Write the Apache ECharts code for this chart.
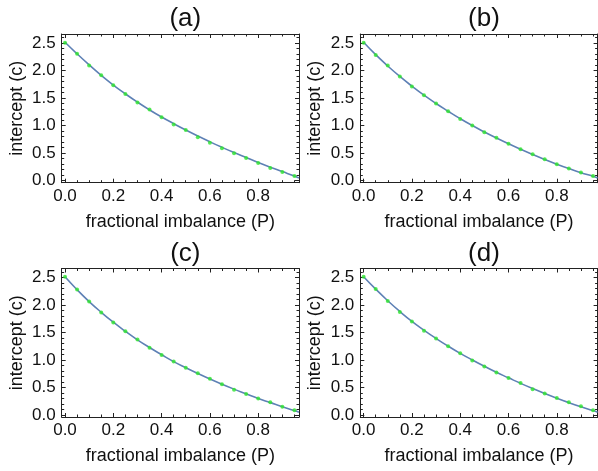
<!DOCTYPE html>
<html>
<head>
<meta charset="utf-8">
<script src="https://cdn.jsdelivr.net/npm/echarts@6/dist/echarts.min.js"></script>
<style>
  html, body { margin: 0; padding: 0; background: #fff; }
  #main { width: 598px; height: 471px; }
</style>
</head>
<body>
<div id="main"></div>
<script>
// x values of the sampled points (fractional imbalance P)
const pVals = [0, 0.05, 0.1, 0.15, 0.2, 0.25, 0.3, 0.35, 0.4, 0.45, 0.5, 0.55, 0.6, 0.65, 0.7, 0.75, 0.8, 0.85, 0.9, 0.95];
const pEnd = 0.969;

// green dots per panel
const dotsA = [2.50, 2.30, 2.09, 1.91, 1.73, 1.57, 1.42, 1.29, 1.15, 1.02, 0.92, 0.79, 0.69, 0.59, 0.50, 0.41, 0.32, 0.23, 0.16, 0.085];
const dotsB = [2.50, 2.28, 2.09, 1.89, 1.71, 1.55, 1.40, 1.26, 1.12, 1.00, 0.88, 0.78, 0.67, 0.57, 0.48, 0.39, 0.30, 0.22, 0.15, 0.085];
const dotsC = [2.51, 2.28, 2.06, 1.86, 1.68, 1.52, 1.37, 1.22, 1.09, 0.97, 0.86, 0.76, 0.66, 0.56, 0.46, 0.38, 0.30, 0.23, 0.15, 0.085];
const dotsD = [2.51, 2.29, 2.07, 1.87, 1.70, 1.53, 1.39, 1.25, 1.12, 0.99, 0.88, 0.77, 0.67, 0.58, 0.47, 0.39, 0.31, 0.23, 0.16, 0.085];

// blue fitted curve per panel (last value is at pEnd)
const curveA = [2.51, 2.30, 2.10, 1.91, 1.735, 1.575, 1.425, 1.285, 1.155, 1.035, 0.92, 0.81, 0.705, 0.605, 0.51, 0.42, 0.33, 0.245, 0.165, 0.085, 0.05];
const curveB = [2.51, 2.285, 2.08, 1.89, 1.715, 1.55, 1.40, 1.26, 1.125, 1.00, 0.885, 0.775, 0.67, 0.57, 0.475, 0.385, 0.30, 0.22, 0.145, 0.08, 0.05];
const curveC = [2.51, 2.275, 2.06, 1.865, 1.685, 1.52, 1.365, 1.225, 1.095, 0.97, 0.86, 0.755, 0.655, 0.56, 0.47, 0.385, 0.30, 0.225, 0.15, 0.08, 0.05];
const curveD = [2.51, 2.285, 2.075, 1.88, 1.70, 1.54, 1.39, 1.25, 1.12, 1.00, 0.885, 0.775, 0.675, 0.575, 0.48, 0.39, 0.305, 0.225, 0.15, 0.08, 0.05];

const panelTitles = ['(a)', '(b)', '(c)', '(d)'];

// ticks
const xMajor = [0, 0.2, 0.4, 0.6, 0.8];
const xMinor = [0.05, 0.1, 0.15, 0.25, 0.3, 0.35, 0.45, 0.5, 0.55, 0.65, 0.7, 0.75, 0.85, 0.9, 0.95];
const yMajor = [0, 0.5, 1, 1.5, 2, 2.5];
const yMinor = [0.1, 0.2, 0.3, 0.4, 0.6, 0.7, 0.8, 0.9, 1.1, 1.2, 1.3, 1.4, 1.6, 1.7, 1.8, 1.9, 2.1, 2.2, 2.3, 2.4, 2.6];

const allDots = [dotsA, dotsB, dotsC, dotsD];
const allCurves = [curveA, curveB, curveC, curveD];

const frameColor = '#222';
const font = 'Liberation Sans, Arial, sans-serif';

const grids = [
  { left: 61.7, top: 34, width: 237.3, height: 148.7 },
  { left: 360.3, top: 34, width: 237.3, height: 148.7 },
  { left: 61.7, top: 268.5, width: 237.3, height: 148.5 },
  { left: 360.3, top: 268.5, width: 237.3, height: 148.5 }
];

let xAxes = [];
let yAxes = [];
let series = [];
let titles = [];

function tickAxis(g, pos, vals, len, lineShow) {
  return {
    type: 'value', gridIndex: g, position: pos,
    axisLine: { show: lineShow, onZero: false, lineStyle: { color: frameColor, width: 1 } },
    axisTick: { show: true, inside: true, length: len, customValues: vals, lineStyle: { color: frameColor, width: 1 } },
    axisLabel: { show: false },
    splitLine: { show: false }
  };
}

grids.forEach((gr, g) => {
  const xr = { min: -0.0137, max: 0.969 };
  const yr = { min: -0.036, max: 2.66 };

  // bottom x axis with labels
  let xb = tickAxis(g, 'bottom', xMajor, 4, true);
  xb.axisLabel = {
    show: true, customValues: xMajor, margin: 5,
    fontSize: 17, color: '#111', fontFamily: font,
    formatter: v => v.toFixed(1)
  };
  xb.name = 'fractional imbalance (P)';
  xb.nameLocation = 'middle';
  xb.nameGap = 30;
  xb.nameTextStyle = { fontSize: 18, color: '#111', fontFamily: font };
  xAxes.push(Object.assign(xb, xr));
  xAxes.push(Object.assign(tickAxis(g, 'bottom', xMinor, 2.5, false), xr));
  xAxes.push(Object.assign(tickAxis(g, 'top', xMajor, 4, true), xr));
  xAxes.push(Object.assign(tickAxis(g, 'top', xMinor, 2.5, false), xr));

  let yl = tickAxis(g, 'left', yMajor, 4, true);
  yl.axisLabel = {
    show: true, customValues: yMajor, margin: 6,
    fontSize: 17, color: '#111', fontFamily: font,
    formatter: v => v.toFixed(1)
  };
  yl.name = 'intercept (c)';
  yl.nameLocation = 'middle';
  yl.nameGap = 36;
  yl.nameTextStyle = { fontSize: 18, color: '#111', fontFamily: font };
  yAxes.push(Object.assign(yl, yr));
  yAxes.push(Object.assign(tickAxis(g, 'left', yMinor, 2.5, false), yr));
  yAxes.push(Object.assign(tickAxis(g, 'right', yMajor, 4, true), yr));
  yAxes.push(Object.assign(tickAxis(g, 'right', yMinor, 2.5, false), yr));

  const curveData = pVals.map((p, i) => [p, allCurves[g][i]]);
  curveData.push([pEnd, allCurves[g][pVals.length]]);

  series.push({
    type: 'line', xAxisIndex: g * 4, yAxisIndex: g * 4,
    data: curveData, smooth: true, showSymbol: false,
    lineStyle: { color: '#5E81B5', width: 1.6 },
    z: 2
  });
  series.push({
    type: 'scatter', xAxisIndex: g * 4, yAxisIndex: g * 4,
    data: pVals.map((p, i) => [p, allDots[g][i]]),
    symbolSize: 4,
    itemStyle: { color: '#2ee62e' },
    z: 3
  });

  titles.push({
    text: panelTitles[g],
    left: gr.left + gr.width / 2,
    top: gr.top - 33,
    textAlign: 'center',
    textStyle: { fontSize: 26, fontWeight: 'normal', color: '#111', fontFamily: font }
  });
});

const chart = echarts.init(document.getElementById('main'));
chart.setOption({
  animation: false,
  title: titles,
  grid: grids,
  xAxis: xAxes,
  yAxis: yAxes,
  series: series
});
</script>
</body>
</html>
